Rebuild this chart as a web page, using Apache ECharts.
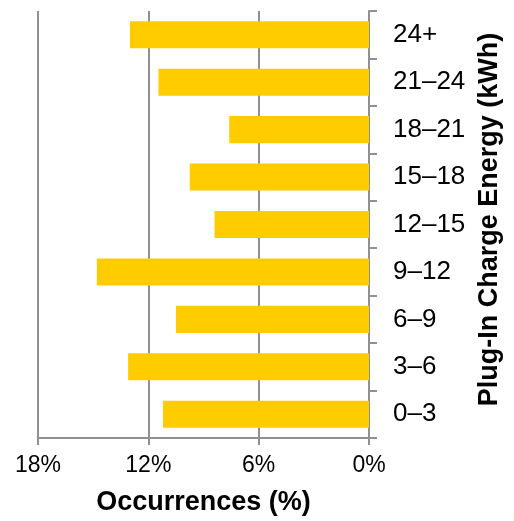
<!DOCTYPE html>
<html>
<head>
<meta charset="utf-8">
<script src="https://cdn.jsdelivr.net/npm/echarts@6/dist/echarts.min.js"></script>
<style>html,body{margin:0;padding:0;background:#fff;}#c{width:514px;height:521px;}</style>
</head>
<body>
<div id="c"></div>
<script>
const categories = ['0–3', '3–6', '6–9', '9–12', '12–15', '15–18', '18–21', '21–24', '24+'];
const occurrences = [11.2, 13.1, 10.5, 14.8, 8.4, 9.75, 7.6, 11.45, 13.0];
const xTicks = [0, 6, 12, 18];

const chart = echarts.init(document.getElementById('c'), null, {renderer: 'canvas'});
const font = '"Liberation Sans", Arial, sans-serif';
const gray = '#909090';
chart.setOption({
  animation: false,
  textStyle: {fontFamily: font},
  grid: {left: 38, right: 145, top: 11, bottom: 82},
  xAxis: {
    type: 'value',
    inverse: true,
    min: xTicks[0],
    max: xTicks[xTicks.length - 1],
    interval: 6,
    position: 'bottom',
    name: 'Occurrences (%)',
    nameLocation: 'middle',
    nameGap: 51,
    nameTextStyle: {fontFamily: font, fontSize: 27, fontWeight: 'bold', color: '#000'},
    axisLine: {show: true, lineStyle: {color: gray, width: 2}},
    axisTick: {show: true, length: 7, lineStyle: {color: gray, width: 2}},
    axisLabel: {formatter: '{value}%', fontFamily: font, fontSize: 23, color: '#000', margin: 16},
    splitLine: {show: true, lineStyle: {color: gray, width: 2}}
  },
  yAxis: {
    type: 'category',
    data: categories,
    position: 'right',
    name: 'Plug-In Charge Energy (kWh)',
    nameLocation: 'middle',
    nameRotate: 90,
    nameGap: 105,
    nameTextStyle: {fontFamily: font, fontSize: 27, fontWeight: 'bold', color: '#000', padding: [0, 0, 0, 10]},
    axisLine: {show: true, lineStyle: {color: gray, width: 2}},
    axisTick: {show: true, length: 8, lineStyle: {color: gray, width: 2}},
    axisLabel: {fontFamily: font, fontSize: 26, color: '#000', margin: 24},
    splitLine: {show: false}
  },
  series: [{
    type: 'bar',
    data: occurrences,
    barCategoryGap: '43%',
    itemStyle: {color: '#FFCC00'}
  }]
});
</script>
</body>
</html>
